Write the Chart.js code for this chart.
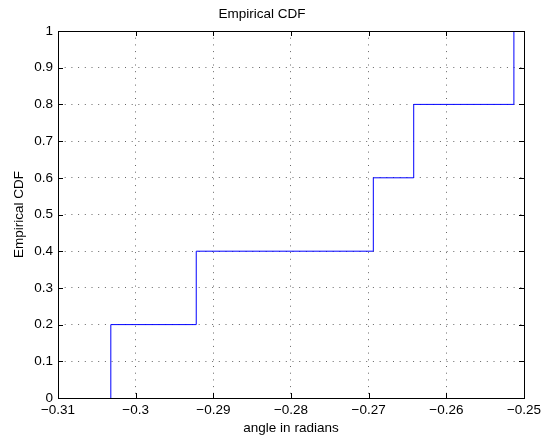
<!DOCTYPE html>
<html>
<head>
<meta charset="utf-8">
<script src="https://cdn.jsdelivr.net/npm/chart.js@4/dist/chart.umd.min.js"></script>
<style>
  html, body { margin: 0; padding: 0; background: #fff; }
  #wrap { width: 542px; height: 439px; }
</style>
</head>
<body>
<div id="wrap"><canvas id="cdf" width="542" height="439"></canvas></div>
<script>
// Sorted sample values (angle in radians) where the empirical CDF jumps
const jumpX = [-0.3032, -0.2922, -0.2694, -0.2642, -0.2513];
// CDF level reached at each jump
const cdfLevel = [0.2, 0.4, 0.6, 0.8, 1.0];

// Axis ranges and tick labels
const xTickValues = [-0.31, -0.30, -0.29, -0.28, -0.27, -0.26, -0.25];
const xTickLabels = ['\u22120.31', '\u22120.3', '\u22120.29', '\u22120.28', '\u22120.27', '\u22120.26', '\u22120.25'];
const yTickValues = [0, 0.1, 0.2, 0.3, 0.4, 0.5, 0.6, 0.7, 0.8, 0.9, 1];
const yTickLabels = ['0', '0.1', '0.2', '0.3', '0.4', '0.5', '0.6', '0.7', '0.8', '0.9', '1'];

// Staircase points: start at 0 on the first sample, then one point per jump
const stepPoints = [{ x: jumpX[0], y: 0 }].concat(
  jumpX.map((x, i) => ({ x: x, y: cdfLevel[i] }))
);

const FONT = "'Liberation Sans', Arial, Helvetica, sans-serif";
const FS = 13.5;

function labelFor(values, labels, v) {
  let best = 0, bestD = Infinity;
  values.forEach((t, i) => { const d = Math.abs(t - v); if (d < bestD) { bestD = d; best = i; } });
  return bestD < 1e-6 ? labels[best] : '';
}

// Boxed axes with inward tick marks on all four sides
const boxAxes = {
  id: 'boxAxes',
  afterDraw(chart) {
    const { ctx, chartArea: a, scales } = chart;
    const len = 5;
    ctx.save();
    ctx.strokeStyle = '#000';
    ctx.lineWidth = 1;
    ctx.beginPath();
    scales.x.ticks.forEach(t => {
      const px = Math.round(scales.x.getPixelForValue(t.value)) + 0.5;
      ctx.moveTo(px, a.bottom); ctx.lineTo(px, a.bottom - len);
      ctx.moveTo(px, a.top); ctx.lineTo(px, a.top + len);
    });
    scales.y.ticks.forEach(t => {
      const py = Math.round(scales.y.getPixelForValue(t.value)) + 0.5;
      ctx.moveTo(a.left, py); ctx.lineTo(a.left + len, py);
      ctx.moveTo(a.right, py); ctx.lineTo(a.right - len, py);
    });
    ctx.stroke();
    ctx.strokeRect(Math.round(a.left) + 0.5, Math.round(a.top) + 0.5,
                   Math.round(a.right - a.left), Math.round(a.bottom - a.top));
    ctx.restore();
  }
};

const whiteBg = {
  id: 'whiteBg',
  beforeDraw(chart) {
    const { ctx, width, height } = chart;
    ctx.save();
    ctx.fillStyle = '#fff';
    ctx.fillRect(0, 0, width, height);
    ctx.restore();
  }
};

new Chart(document.getElementById('cdf'), {
  type: 'line',
  data: {
    datasets: [{
      data: stepPoints,
      stepped: 'before',
      borderColor: '#0000ff',
      borderWidth: 1,
      pointRadius: 0,
      fill: false,
      tension: 0
    }]
  },
  options: {
    responsive: false,
    animation: false,
    events: [],
    layout: { padding: { left: 0, right: 18, top: 0, bottom: 0 } },
    plugins: {
      legend: { display: false },
      tooltip: { enabled: false },
      title: {
        display: true,
        text: 'Empirical CDF',
        color: '#000',
        font: { family: FONT, size: FS, weight: 'normal' },
        padding: { top: 6, bottom: 8.8 }
      }
    },
    scales: {
      x: {
        type: 'linear',
        min: -0.31,
        max: -0.25,
        afterBuildTicks(scale) { scale.ticks = xTickValues.map(v => ({ value: v })); },
        afterFit(scale) { scale.height = 41; scale.paddingLeft = 0; scale.paddingRight = 0; },
        ticks: {
          color: '#000',
          font: { family: FONT, size: FS },
          padding: 4,
          maxRotation: 0,
          autoSkip: false,
          callback: v => labelFor(xTickValues, xTickLabels, v)
        },
        grid: { color: '#666', lineWidth: 1, drawTicks: false },
        border: { display: false, dash: [1, 5.7] },
        title: {
          display: true,
          text: 'angle in radians',
          color: '#000',
          font: { family: FONT, size: FS },
          padding: { top: 0, bottom: 2.5 }
        }
      },
      y: {
        type: 'linear',
        min: 0,
        max: 1,
        afterBuildTicks(scale) { scale.ticks = yTickValues.map(v => ({ value: v })); },
        afterFit(scale) { scale.width = 58; scale.paddingTop = 0; scale.paddingBottom = 0; },
        ticks: {
          color: '#000',
          font: { family: FONT, size: FS },
          padding: 5,
          autoSkip: false,
          callback: v => labelFor(yTickValues, yTickLabels, v)
        },
        grid: { color: '#666', lineWidth: 1, drawTicks: false },
        border: { display: false, dash: [1, 5.7] },
        title: {
          display: true,
          text: 'Empirical CDF',
          color: '#000',
          font: { family: FONT, size: FS },
          padding: { top: 11, bottom: 0 }
        }
      }
    }
  },
  plugins: [whiteBg, boxAxes]
});
</script>
</body>
</html>
